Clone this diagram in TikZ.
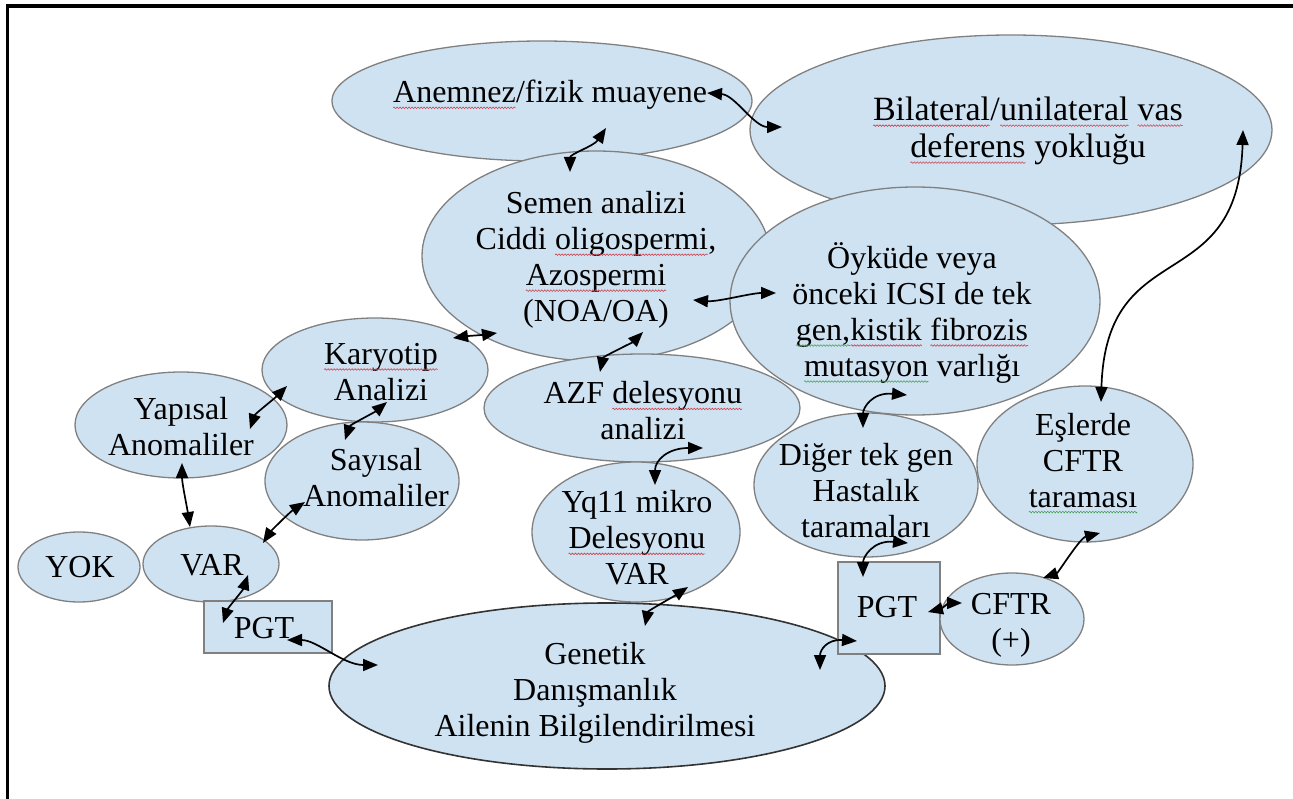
\documentclass[tikz,border=0pt]{standalone}
\usepackage{fontspec}
\setmainfont{Liberation Serif}
\usetikzlibrary{arrows.meta,shapes.geometric,decorations.pathmorphing}
\definecolor{fillb}{RGB}{207,226,242}
\definecolor{edgeg}{RGB}{128,128,128}
\definecolor{sqred}{RGB}{205,70,80}
\definecolor{sqgreen}{RGB}{70,160,90}
\newcommand\squig[2]{\tikz[baseline=(sqw.base)]{\node[inner sep=0pt,outer sep=0pt,align=left](sqw){#2};\draw[#1,line width=0.6pt,decorate,decoration={snake,amplitude=0.8pt,segment length=3pt}]([yshift=-5pt]sqw.base west)--([yshift=-5pt]sqw.base east);}}
\begin{document}
\begin{tikzpicture}[x=1pt,y=-1pt,
  ell/.style={ellipse,draw=edgeg,line width=1.3pt,fill=fillb,inner sep=0pt},
  boxn/.style={rectangle,draw=edgeg,line width=1.3pt,fill=fillb,inner sep=0pt},
  lbl/.style={align=center,font=\fontsize{32}{36}\selectfont,text=black,inner sep=0pt},
  biglbl/.style={lbl,font=\fontsize{34}{37}\selectfont},
  link/.style={{Triangle[length=15pt,width=12pt]}-{Triangle[length=15pt,width=12pt]},line width=1.7pt,black}]
\path[use as bounding box] (0,0) rectangle (1293,799);
% frame
\draw[line width=4pt] (1293,6) -- (7,6);
\draw[line width=3pt] (7,4) -- (7,799);
% shapes
\node[ell,minimum width=420pt,minimum height=120pt] (ane) at (542,101) {};
\node[ell,minimum width=522pt,minimum height=190pt] (bil) at (1011,130) {};
\node[ell,minimum width=348pt,minimum height=210pt] (sem) at (596,256) {};
\node[ell,minimum width=370pt,minimum height=228pt] (oyk) at (915,301) {};
\node[ell,minimum width=226pt,minimum height=104pt] (kar) at (375,370) {};
\node[ell,minimum width=316pt,minimum height=108pt] (azf) at (642,408) {};
\node[ell,minimum width=212pt,minimum height=106pt] (yap) at (181,425) {};
\node[ell,minimum width=194pt,minimum height=118pt] (say) at (362,481) {};
\node[ell,minimum width=224pt,minimum height=144pt] (dig) at (866,485) {};
\node[ell,minimum width=216pt,minimum height=156pt] (esl) at (1085,464) {};
\node[ell,minimum width=208pt,minimum height=140pt] (yq) at (636,532) {};
\node[ell,minimum width=122pt,minimum height=70pt] (yok) at (79,567) {};
\node[ell,minimum width=136pt,minimum height=76pt] (var) at (211,564) {};
\node[boxn,minimum width=128pt,minimum height=52pt] (pgta) at (268,627) {};
\node[ell,draw=black!80,line width=1.6pt,minimum width=556pt,minimum height=166pt] (gen) at (607,686) {};
\node[boxn,minimum width=102pt,minimum height=92pt] (pgtb) at (889,608) {};
\node[ell,minimum width=144pt,minimum height=92pt] (cftr) at (1012,619) {};
% texts
\node[lbl] (aneT) at (550,95) {\squig{sqred}{Anemnez}/fizik muayene};
\node[biglbl] (bilT) at (1028,131) {\squig{sqred}{Bilateral}/\squig{sqred}{unilateral} \squig{sqred}{vas}\\\squig{sqred}{deferens} yokluğu};
\node[lbl] (semT) at (596,260) {Semen analizi\\Ciddi \squig{sqred}{oligospermi},\\\squig{sqred}{Azospermi}\\(NOA/OA)};
\node[lbl] (oykT) at (912,313) {Öyküde veya\\önceki ICSI de tek\\\squig{sqgreen}{gen,}\squig{sqred}{kistik} \squig{sqred}{fibrozis}\\\squig{sqgreen}{mutasyon} varlığı};
\node[lbl] (karT) at (381,372) {\squig{sqred}{Karyotip}\\Analizi};
\node[lbl] (yapT) at (181,427) {Yapısal\\Anomaliler};
\node[lbl] (sayT) at (376,478) {Sayısal\\Anomaliler};
\node[lbl] (azfT) at (643,411) {AZF \squig{sqred}{delesyonu}\\analizi};
\node[lbl] (yqT) at (637,538) {Yq11 mikro\\\squig{sqred}{Delesyonu}\\VAR};
\node[lbl] (digT) at (866,491) {Diğer tek gen\\Hastalık\\taramaları};
\node[lbl] (eslT) at (1083,463) {Eşlerde\\CFTR\\\squig{sqgreen}{taraması}};
\node[lbl] (yokT) at (80,567) {YOK};
\node[lbl] (varT) at (212,565) {VAR};
\node[lbl] (pgtaT) at (264,628) {PGT};
\node[lbl] (genT) at (595,693) {Genetik\\Danışmanlık\\Ailenin Bilgilendirilmesi};
\node[lbl] (pgtbT) at (887,607) {PGT};
\node[lbl] (cftrT) at (1011,625) {CFTR\\(+)};
% connectors
\draw[link] ([shift={(165,-8)}]ane.center) .. controls +(28,2) and +(-28,0) .. ([shift={(-229,-3)}]bil.center);
\draw[link] ([shift={(64,27)}]ane.center) .. controls +(-12,18) and +(0,-18) .. ([shift={(-26,-84)}]sem.center);
\draw[link] ([shift={(97,44)}]sem.center) .. controls +(25,2) and +(-25,0) .. ([shift={(-139,-8)}]oyk.center);
\draw[link] ([shift={(78,-32)}]kar.center) .. controls +(15,-2) and +(-15,2) .. ([shift={(-99,77)}]sem.center);
\draw[link] ([shift={(47,76)}]sem.center) .. controls +(-10,10) and +(3,-15) .. ([shift={(-42,-36)}]azf.center);
\draw[link] ([shift={(-88,16)}]kar.center) .. controls +(-12,12) and +(5,-15) .. ([shift={(69,4)}]yap.center);
\draw[link] ([shift={(12,32)}]kar.center) .. controls +(-12,10) and +(5,-15) .. ([shift={(-17,-41)}]say.center);
\draw[link] ([shift={(1,38)}]yap.center) .. controls +(0,20) and +(-3,-20) .. ([shift={(-21,-37)}]var.center);
\draw[link] ([shift={(-57,21)}]say.center) .. controls +(-15,10) and +(8,-12) .. ([shift={(52,-21)}]var.center);
\draw[link] ([shift={(37,11)}]var.center) .. controls +(-5,15) and +(5,-15) .. ([shift={(-45,-4)}]pgta.center);
\draw[link] ([shift={(19,13)}]pgta.center) .. controls +(30,0) and +(-35,0) .. ([shift={(-229,-21)}]gen.center);
\draw[link] ([shift={(61,40)}]azf.center) .. controls +(-35,0) and +(0,-25) .. ([shift={(19,-47)}]yq.center);
\draw[link] ([shift={(52,55)}]yq.center) .. controls +(-12,8) and +(3,-15) .. ([shift={(38,-60)}]gen.center);
\draw[link] ([shift={(-32,33)}]pgtb.center) .. controls +(-30,-2) and +(0,-20) .. ([shift={(213,-16)}]gen.center);
\draw[link] ([shift={(-8,94)}]oyk.center) .. controls +(-35,-3) and +(0,-20) .. ([shift={(-3,-57)}]dig.center);
\draw[link] ([shift={(42,58)}]dig.center) .. controls +(-35,-3) and +(0,-20) .. ([shift={(-26,-31)}]pgtb.center);
\draw[link] ([shift={(39,4)}]pgtb.center) .. controls +(12,-3) and +(-12,0) .. ([shift={(-50,-16)}]cftr.center);
\draw[link] ([shift={(15,69)}]esl.center) .. controls +(-20,5) and +(15,-5) .. ([shift={(31,-41)}]cftr.center);
\draw[link] ([shift={(16,-62)}]esl.center) .. controls +(5,-170) and +(-5,170) .. ([shift={(232,0)}]bil.center);
\end{tikzpicture}
\end{document}
